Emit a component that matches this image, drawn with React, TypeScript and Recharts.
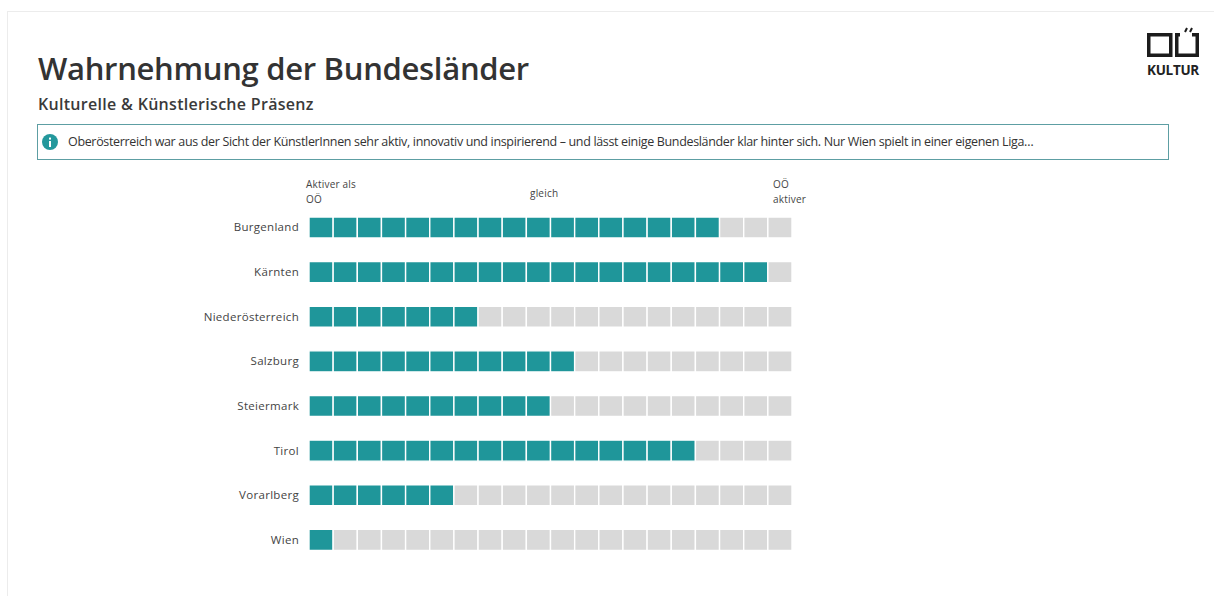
import React from "react";
import { BarChart, Bar, Cell, XAxis, YAxis } from "recharts";

const states = ["Burgenland", "Kärnten", "Niederösterreich", "Salzburg", "Steiermark", "Tirol", "Vorarlberg", "Wien"];
const filledUnits = [17, 19, 7, 11, 10, 16, 6, 1];
const unitCount = 20;
const unitKeys = Array.from({ length: unitCount }, (_, i) => `u${i}`);

const title = "Wahrnehmung der Bundesländer";
const subtitle = "Kulturelle & Künstlerische Präsenz";
const note =
  "Oberösterreich war aus der Sicht der KünstlerInnen sehr aktiv, innovativ und inspirierend – und lässt einige Bundesländer klar hinter sich. Nur Wien spielt in einer eigenen Liga…";

const TEAL = "#1f969a";
const GREY = "#d9d9d9";
const FONT = "'Open Sans', sans-serif";

// Each row is a stack of equal one-unit segments.
const rows = states.map((name) => {
  const row: Record<string, string | number> = { name };
  unitKeys.forEach((k) => (row[k] = 1));
  return row;
});

const place = (left: number, top: number): React.CSSProperties => ({
  position: "absolute",
  left,
  top,
  whiteSpace: "nowrap",
  fontFamily: FONT,
});

const scaleLabel: React.CSSProperties = { fontSize: 10, lineHeight: "15px", color: "#444", letterSpacing: 0.2 };

function Logo() {
  return (
    <svg style={{ position: "absolute", left: 1140, top: 24 }} width={64} height={56}>
      <rect x={8.75} y={10.75} width={22} height={20.5} fill="none" stroke="#1c1c1c" strokeWidth={3.5} />
      <path d="M40 10.75 H36.75 V31.25 H57.25 V10.75 H52" fill="none" stroke="#1c1c1c" strokeWidth={3.5} />
      <path d="M45 8 L47 4 M50 8 L52 4" stroke="#1c1c1c" strokeWidth={2} />
      <text x={33} y={51} textAnchor="middle" fontFamily={FONT} fontWeight={700} fontSize={13.5} letterSpacing={-0.3} fill="#222">
        KULTUR
      </text>
    </svg>
  );
}

export default function App() {
  return (
    <div style={{ position: "absolute", left: 0, top: 0, width: 1214, height: 596, background: "#fff", overflow: "hidden" }}>
      <div style={{ position: "absolute", left: 7, top: 11, width: 1207, height: 585, borderLeft: "1px solid #ececec", borderTop: "1px solid #ececec" }} />

      <div style={{ ...place(38, 46), fontSize: 31, lineHeight: "44px", fontWeight: 600, color: "#333", letterSpacing: -0.3 }}>{title}</div>
      <div style={{ ...place(38, 94), fontSize: 16, lineHeight: "20px", fontWeight: 600, color: "#3a3a3a", letterSpacing: 0.3 }}>{subtitle}</div>
      <Logo />

      <div style={{ position: "absolute", left: 37, top: 124, width: 1130, height: 34, border: "1px solid #5d9ea3" }} />
      <svg style={{ position: "absolute", left: 41, top: 133 }} width={18} height={18}>
        <circle cx={9} cy={9} r={8} fill="#23989c" />
        <rect x={8} y={8} width={2} height={6} fill="#fff" />
        <rect x={8} y={4.6} width={2} height={2} fill="#fff" />
      </svg>
      <div style={{ ...place(68, 134), fontSize: 12.5, lineHeight: "16px", color: "#333", letterSpacing: -0.34 }}>{note}</div>

      <div style={{ ...place(306, 177), ...scaleLabel }}>Aktiver als<br />OÖ</div>
      <div style={{ ...place(530, 186), ...scaleLabel }}>gleich</div>
      <div style={{ ...place(773, 177), ...scaleLabel }}>OÖ<br />aktiver</div>

      <div style={{ position: "absolute", left: 0, top: 0 }}>
        <BarChart
          width={1214}
          height={596}
          data={rows}
          layout="vertical"
          barSize={21}
          margin={{ left: 209, right: 422, top: 205, bottom: 34 }}
        >
          <XAxis type="number" domain={[0, unitCount]} hide />
          <YAxis
            type="category"
            dataKey="name"
            width={100}
            axisLine={false}
            tickLine={false}
            tickMargin={4}
            tick={{ fontSize: 11.5, fontFamily: FONT, fill: "#444", letterSpacing: 0.3 }}
            interval={0}
          />
          {unitKeys.map((key, unit) => (
            <Bar key={key} dataKey={key} stackId="units" stroke="#ffffff" strokeWidth={1.4} isAnimationActive={false}>
              {filledUnits.map((filled, row) => (
                <Cell key={row} fill={unit < filled ? TEAL : GREY} />
              ))}
            </Bar>
          ))}
        </BarChart>
      </div>
    </div>
  );
}
